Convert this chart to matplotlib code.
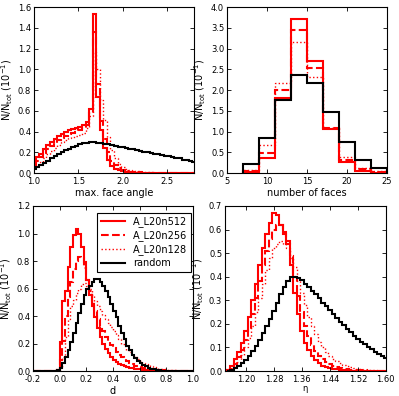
import matplotlib
matplotlib.use('Agg')
import matplotlib.pyplot as plt
import numpy as np

# max. face angle, bins of 0.04 (centres 1.00 ... 2.80)
angle_edges = np.linspace(0.98, 2.82, 47)
angle_n512 = [0.11, 0.15, 0.18, 0.23, 0.27, 0.30, 0.33, 0.36, 0.38, 0.40,
              0.41, 0.42, 0.43, 0.44, 0.46, 0.49, 0.62, 1.53, 0.73, 0.41,
              0.24, 0.13, 0.07, 0.04, 0.025, 0.015, 0.010, 0.007, 0.005, 0.004,
              0.003, 0.002, 0.002, 0.001, 0.001, 0.001, 0.001, 0.001, 0.0, 0.0,
              0.0, 0.0, 0.0, 0.0, 0.0, 0.0]
angle_n256 = [0.08, 0.12, 0.15, 0.19, 0.23, 0.26, 0.29, 0.32, 0.34, 0.36,
              0.38, 0.39, 0.40, 0.41, 0.43, 0.46, 0.58, 1.36, 0.86, 0.50,
              0.33, 0.20, 0.12, 0.075, 0.05, 0.03, 0.02, 0.014, 0.010, 0.008,
              0.006, 0.004, 0.003, 0.003, 0.002, 0.002, 0.001, 0.001, 0.001, 0.001,
              0.001, 0.001, 0.0, 0.0, 0.0, 0.0]
angle_n128 = [0.05, 0.08, 0.11, 0.14, 0.18, 0.21, 0.24, 0.27, 0.30, 0.32,
              0.34, 0.35, 0.36, 0.37, 0.39, 0.43, 0.55, 1.17, 1.00, 0.70,
              0.51, 0.35, 0.22, 0.14, 0.09, 0.06, 0.04, 0.03, 0.02, 0.015,
              0.010, 0.008, 0.006, 0.005, 0.004, 0.003, 0.003, 0.002, 0.002, 0.001,
              0.001, 0.001, 0.001, 0.001, 0.0, 0.0]
angle_rand = [0.04, 0.06, 0.08, 0.10, 0.12, 0.14, 0.16, 0.18, 0.20, 0.22,
              0.235, 0.25, 0.265, 0.275, 0.285, 0.29, 0.295, 0.295, 0.29, 0.285,
              0.28, 0.275, 0.27, 0.26, 0.255, 0.25, 0.24, 0.235, 0.23, 0.22,
              0.21, 0.205, 0.20, 0.19, 0.185, 0.18, 0.17, 0.165, 0.16, 0.15,
              0.145, 0.14, 0.13, 0.125, 0.12, 0.11]

# number of faces, bins of 2
faces_edges = [7, 9, 11, 13, 15, 17, 19, 21, 23, 25]
faces_n512 = [0.03, 0.35, 1.80, 3.70, 2.70, 1.07, 0.27, 0.06, 0.01]
faces_n256 = [0.05, 0.49, 1.99, 3.44, 2.54, 1.08, 0.32, 0.09, 0.03]
faces_n128 = [0.08, 0.67, 2.16, 3.16, 2.31, 1.09, 0.38, 0.12, 0.04]
faces_rand = [0.21, 0.84, 1.77, 2.36, 2.16, 1.46, 0.75, 0.31, 0.12]

# d, bins of 0.02 from -0.2 to 1.0
d_edges = np.linspace(-0.2, 1.0, 61)
d_n512 = [0, 0, 0, 0, 0, 0, 0, 0.001, 0.003, 0.01,
          0.21, 0.51, 0.58, 0.76, 0.90, 0.99, 1.03, 1.00, 0.90, 0.79,
          0.66, 0.55, 0.47, 0.39, 0.31, 0.25, 0.20, 0.16, 0.13, 0.10,
          0.08, 0.065, 0.052, 0.042, 0.034, 0.028, 0.023, 0.019, 0.016, 0.013,
          0.011, 0.009, 0.008, 0.006, 0.005, 0.004, 0.004, 0.003, 0.002, 0.002,
          0.002, 0.001, 0.001, 0.001, 0.001, 0.001, 0, 0, 0, 0]
d_n256 = [0, 0, 0, 0, 0, 0, 0, 0, 0.002, 0.008,
          0.08, 0.22, 0.40, 0.54, 0.65, 0.74, 0.80, 0.83, 0.82, 0.75,
          0.66, 0.58, 0.50, 0.44, 0.38, 0.33, 0.29, 0.25, 0.22, 0.19,
          0.165, 0.14, 0.12, 0.10, 0.085, 0.07, 0.06, 0.05, 0.04, 0.033,
          0.027, 0.022, 0.018, 0.014, 0.011, 0.009, 0.007, 0.005, 0.004, 0.003,
          0.002, 0.002, 0.001, 0.001, 0.001, 0.001, 0, 0, 0, 0]
d_n128 = [0, 0, 0, 0, 0, 0, 0, 0, 0.001, 0.005,
          0.03, 0.10, 0.25, 0.38, 0.47, 0.52, 0.57, 0.60, 0.63, 0.64,
          0.62, 0.60, 0.55, 0.51, 0.47, 0.44, 0.41, 0.38, 0.35, 0.32,
          0.29, 0.26, 0.23, 0.20, 0.18, 0.155, 0.135, 0.115, 0.10, 0.085,
          0.07, 0.06, 0.05, 0.042, 0.035, 0.028, 0.023, 0.018, 0.015, 0.012,
          0.009, 0.007, 0.005, 0.004, 0.003, 0.002, 0.002, 0.001, 0.001, 0.001]
d_rand = [0, 0, 0, 0, 0, 0, 0, 0, 0.001, 0.005,
          0.02, 0.06, 0.10, 0.15, 0.21, 0.28, 0.35, 0.42, 0.49, 0.55,
          0.60, 0.62, 0.65, 0.67, 0.67, 0.65, 0.62, 0.58, 0.54, 0.49,
          0.44, 0.39, 0.33, 0.28, 0.23, 0.18, 0.15, 0.12, 0.095, 0.075,
          0.058, 0.044, 0.033, 0.024, 0.017, 0.012, 0.008, 0.005, 0.003, 0.002,
          0.001, 0.001, 0, 0, 0, 0, 0, 0, 0, 0]

# eta, bins of 0.01 (centres 1.15 ... 1.60)
eta_edges = np.linspace(1.145, 1.605, 47)
eta_n512 = [0.005, 0.02, 0.05, 0.08, 0.12, 0.17, 0.23, 0.30, 0.37, 0.45,
            0.52, 0.58, 0.63, 0.67, 0.66, 0.62, 0.58, 0.54, 0.45, 0.33,
            0.24, 0.17, 0.12, 0.09, 0.065, 0.045, 0.032, 0.023, 0.017, 0.012,
            0.009, 0.007, 0.005, 0.004, 0.003, 0.002, 0.002, 0.001, 0.001, 0.001,
            0.001, 0.001, 0.001, 0.001, 0.001, 0.001]
eta_n256 = [0.003, 0.01, 0.03, 0.06, 0.09, 0.13, 0.18, 0.24, 0.31, 0.38,
            0.45, 0.51, 0.56, 0.60, 0.62, 0.62, 0.59, 0.55, 0.49, 0.40,
            0.32, 0.25, 0.19, 0.15, 0.11, 0.085, 0.065, 0.05, 0.038, 0.029,
            0.022, 0.017, 0.013, 0.010, 0.008, 0.006, 0.005, 0.004, 0.003, 0.003,
            0.002, 0.002, 0.002, 0.001, 0.001, 0.001]
eta_n128 = [0.002, 0.008, 0.02, 0.04, 0.07, 0.10, 0.14, 0.19, 0.25, 0.31,
            0.37, 0.43, 0.48, 0.52, 0.54, 0.55, 0.54, 0.52, 0.48, 0.44,
            0.38, 0.33, 0.28, 0.23, 0.19, 0.155, 0.125, 0.10, 0.08, 0.065,
            0.052, 0.042, 0.033, 0.026, 0.021, 0.017, 0.013, 0.010, 0.008, 0.006,
            0.005, 0.004, 0.003, 0.002, 0.002, 0.001]
eta_rand = [0.002, 0.006, 0.013, 0.022, 0.034, 0.048, 0.065, 0.085, 0.107, 0.132,
            0.16, 0.19, 0.22, 0.255, 0.29, 0.325, 0.355, 0.38, 0.40, 0.40,
            0.395, 0.385, 0.37, 0.355, 0.34, 0.325, 0.31, 0.29, 0.275, 0.258,
            0.24, 0.225, 0.21, 0.195, 0.18, 0.165, 0.15, 0.137, 0.125, 0.113,
            0.102, 0.092, 0.082, 0.073, 0.065, 0.057]

labels = ['A_L20n512', 'A_L20n256', 'A_L20n128', 'random']
styles = [('red', '-', 1.5), ('red', '--', 1.5), ('red', ':', 1.0), ('black', '-', 1.5)]
ylab = r'N/N$_{\rm tot}$ (10$^{-1}$)'

plt.rcParams['font.size'] = 6
plt.rcParams['mathtext.default'] = 'regular'

fig = plt.figure(figsize=(3.99, 3.96), dpi=100)
ax1 = fig.add_axes([0.0852, 0.5631, 0.401, 0.4192])
ax2 = fig.add_axes([0.5689, 0.5631, 0.401, 0.4192])
ax3 = fig.add_axes([0.0827, 0.0631, 0.401, 0.4167])
ax4 = fig.add_axes([0.5639, 0.0631, 0.403, 0.4167])

panels = [
    (ax1, angle_edges, [angle_n512, angle_n256, angle_n128, angle_rand], 'max. face angle'),
    (ax2, faces_edges, [faces_n512, faces_n256, faces_n128, faces_rand], 'number of faces'),
    (ax3, d_edges, [d_n512, d_n256, d_n128, d_rand], 'd'),
    (ax4, eta_edges, [eta_n512, eta_n256, eta_n128, eta_rand], r'$\eta$'),
]

for ax, edges, series, xlab in panels:
    for vals, (col, ls, lw), lab in zip(series, styles, labels):
        ax.stairs(vals, edges, color=col, linestyle=ls, lw=lw, label=lab)
    ax.set_xlabel(xlab, fontsize=7, labelpad=1)
    ax.set_ylabel(ylab, fontsize=7, labelpad=2)
    ax.tick_params(direction='in', length=3, width=0.6, top=True, right=True,
                   labelsize=6)
    ax.tick_params(axis='x', pad=3)
    ax.tick_params(axis='y', pad=2)

ax4.set_xlabel(r'$\eta$', fontsize=6, labelpad=0)

ax1.set_xlim(1.0, 2.8)
ax1.set_ylim(0, 1.6)
ax1.set_xticks([1.0, 1.5, 2.0, 2.5])
ax1.set_yticks(np.arange(0, 1.61, 0.2))

ax2.set_xlim(5, 25)
ax2.set_ylim(0, 4.0)
ax2.set_xticks([5, 10, 15, 20, 25])
ax2.set_yticks(np.arange(0, 4.01, 0.5))

ax3.set_xlim(-0.2, 1.0)
ax3.set_ylim(0, 1.2)
ax3.set_xticks(np.arange(-0.2, 1.01, 0.2))
ax3.set_yticks(np.arange(0, 1.21, 0.2))

ax4.set_xlim(1.14, 1.60)
ax4.set_ylim(0, 0.7)
ax4.set_xticks([1.20, 1.28, 1.36, 1.44, 1.52, 1.60])
ax4.set_yticks(np.arange(0, 0.71, 0.1))

fmt = matplotlib.ticker.FormatStrFormatter
for ax in (ax1, ax3):
    ax.xaxis.set_major_formatter(fmt('%.1f'))
ax2.xaxis.set_major_formatter(fmt('%d'))
ax4.xaxis.set_major_formatter(fmt('%.2f'))
for ax in (ax1, ax2, ax3, ax4):
    ax.yaxis.set_major_formatter(fmt('%.1f'))

leg = ax3.legend(loc='upper right', bbox_to_anchor=(0.99, 0.96), fontsize=7,
                 frameon=True, fancybox=False, framealpha=1, edgecolor='black',
                 handlelength=2.5, labelspacing=0.3, borderpad=0.4, borderaxespad=0)
leg.get_frame().set_linewidth(0.8)

fig.savefig('out.png', dpi=100)
